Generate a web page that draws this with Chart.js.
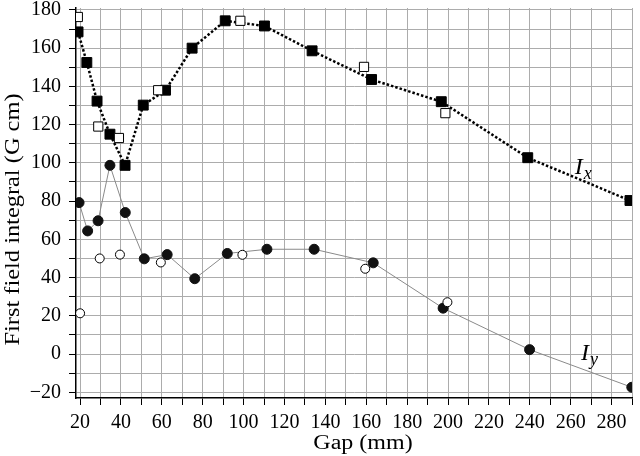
<!DOCTYPE html>
<html>
<head>
<meta charset="utf-8">
<script src="https://cdn.jsdelivr.net/npm/chart.js@4"></script>
<style>
  html, body { margin: 0; padding: 0; background: #fff; }
  #wrap { width: 640px; height: 456px; }
</style>
</head>
<body>
<div id="wrap"><canvas id="field-chart" width="640" height="456"></canvas></div>
<script>
// Ix, filled squares (joined by dotted line)
const ixGap = [19, 23.3, 28.3, 34.6, 42, 50.9, 61.8, 74.8, 91, 110.2, 133.5, 162.6, 196.7, 239, 289];
const ixVal = [168.5, 152.5, 132.3, 115, 98.7, 130.2, 138, 160, 174.3, 171.6, 158.6, 143.6, 132, 102.7, 80.3];
// Ix, open squares
const ixOpenGap = [18.9, 28.9, 39, 58.2, 98.4, 158.9, 198.7];
const ixOpenVal = [176.3, 119, 113, 138, 174.3, 150.2, 126];
// Iy, filled circles (joined by thin grey line)
const iyGap = [19.5, 23.7, 28.8, 34.6, 42.1, 51.4, 62.6, 76.1, 92, 111.4, 134.5, 163.4, 197.6, 239.9, 289.9];
const iyVal = [79.2, 64.4, 69.7, 98.7, 74, 49.8, 52, 39.4, 52.6, 54.8, 54.8, 47.7, 24, 2.3, -17.4];
// Iy, open circles
const iyOpenGap = [20, 29.6, 39.5, 59.5, 99.4, 159.5, 199.7];
const iyOpenVal = [21.3, 50, 52, 47.9, 51.9, 44.6, 27.1];

const xTicks = [20, 30, 40, 50, 60, 70, 80, 90, 100, 110, 120, 130, 140, 150, 160, 170, 180, 190, 200, 210, 220, 230, 240, 250, 260, 270, 280, 290];
const yTicks = [-20, -10, 0, 10, 20, 30, 40, 50, 60, 70, 80, 90, 100, 110, 120, 130, 140, 150, 160, 170, 180];

const xTitle = 'Gap (mm)';
const yTitle = 'First field integral (G cm)';

const serif = "'Liberation Serif', 'DejaVu Serif', serif";

function pts(xs, ys) {
    return xs.map((x, i) => ({ x: x, y: ys[i] }));
}

// axis titles, a little wider than the plain font like in the scan
const axisTitles = {
    id: 'axisTitles',
    afterDraw(chart) {
        const c = chart.ctx;
        c.save();
        c.fillStyle = '#000';
        c.font = '20px ' + serif;
        c.textAlign = 'center';
        c.textBaseline = 'alphabetic';

        c.save();
        c.translate(363, 449);
        c.scale(1.2, 1);
        c.fillText(xTitle, 0, 0);
        c.restore();

        c.save();
        c.translate(18.5, 219.5);
        c.rotate(-Math.PI / 2);
        c.scale(1.22, 1);
        c.fillText(yTitle, 0, 0);
        c.restore();

        c.restore();
    }
};

// italic I with subscript near the curves
const curveLabels = {
    id: 'curveLabels',
    afterDatasetsDraw(chart) {
        const { ctx, scales } = chart;
        const items = [['x', 262, 94], ['y', 265, -3]];
        ctx.save();
        ctx.fillStyle = '#000';
        ctx.textBaseline = 'alphabetic';
        items.forEach(([sub, gx, gv]) => {
            const px = scales.x.getPixelForValue(gx);
            const py = scales.y.getPixelForValue(gv);
            ctx.font = 'italic 24px ' + serif;
            ctx.fillText('I', px, py);
            const w = ctx.measureText('I').width;
            ctx.font = 'italic 18px ' + serif;
            ctx.fillText(sub, px + w + 1, py + 5);
        });
        ctx.restore();
    }
};

const ctx = document.getElementById('field-chart').getContext('2d');
new Chart(ctx, {
    type: 'scatter',
    data: {
        datasets: [{
            label: 'Iy open',
            data: pts(iyOpenGap, iyOpenVal),
            pointStyle: 'circle',
            pointRadius: 4.5,
            pointBackgroundColor: '#fff',
            pointBorderColor: '#000',
            pointBorderWidth: 1,
            showLine: false
        }, {
            label: 'Iy',
            data: pts(iyGap, iyVal),
            showLine: true,
            borderColor: '#8a8a8a',
            borderWidth: 1,
            pointStyle: 'circle',
            pointRadius: 5,
            pointBackgroundColor: '#111',
            pointBorderColor: '#111',
            pointBorderWidth: 1
        }, {
            label: 'Ix open',
            data: pts(ixOpenGap, ixOpenVal),
            pointStyle: 'rect',
            pointRadius: 6.5,
            pointBackgroundColor: '#fff',
            pointBorderColor: '#000',
            pointBorderWidth: 1,
            showLine: false
        }, {
            label: 'Ix',
            data: pts(ixGap, ixVal),
            showLine: true,
            borderColor: '#000',
            borderWidth: 2.5,
            borderDash: [2.5, 2],
            pointStyle: 'rect',
            pointRadius: 7,
            pointBackgroundColor: '#000',
            pointBorderColor: '#000',
            pointBorderWidth: 1
        }]
    },
    options: {
        responsive: false,
        animation: false,
        layout: { padding: { left: 0, top: 8, right: 7, bottom: 0 } },
        scales: {
            x: {
                type: 'linear',
                min: 18,
                max: 290,
                afterBuildTicks: s => { s.ticks = xTicks.map(v => ({ value: v })); },
                afterFit: s => { s.height = 58; s.paddingLeft = 0; s.paddingRight = 0; },
                border: { color: '#000', width: 1.5 },
                grid: { color: '#acacac', lineWidth: 1, tickColor: '#000', tickLength: 7 },
                ticks: {
                    color: '#000',
                    font: { family: serif, size: 20 },
                    padding: 6,
                    maxRotation: 0,
                    autoSkip: false,
                    callback: v => (v % 20 === 0 ? String(v) : '')
                },
                title: { display: false }
            },
            y: {
                type: 'linear',
                min: -23,
                max: 181,
                afterBuildTicks: s => { s.ticks = yTicks.map(v => ({ value: v })); },
                afterFit: s => { s.width = 76; s.paddingTop = 0; s.paddingBottom = 0; },
                border: { color: '#000', width: 1.5 },
                grid: { color: '#acacac', lineWidth: 1, tickColor: '#000', tickLength: 7 },
                ticks: {
                    color: '#000',
                    font: { family: serif, size: 20 },
                    padding: 8,
                    autoSkip: false,
                    callback: v => (v % 20 === 0 ? String(v).replace('-', '\u2212') : '')
                },
                title: { display: false }
            }
        },
        plugins: {
            legend: { display: false },
            tooltip: { enabled: false }
        }
    },
    plugins: [curveLabels, axisTitles]
});
</script>
</body>
</html>
